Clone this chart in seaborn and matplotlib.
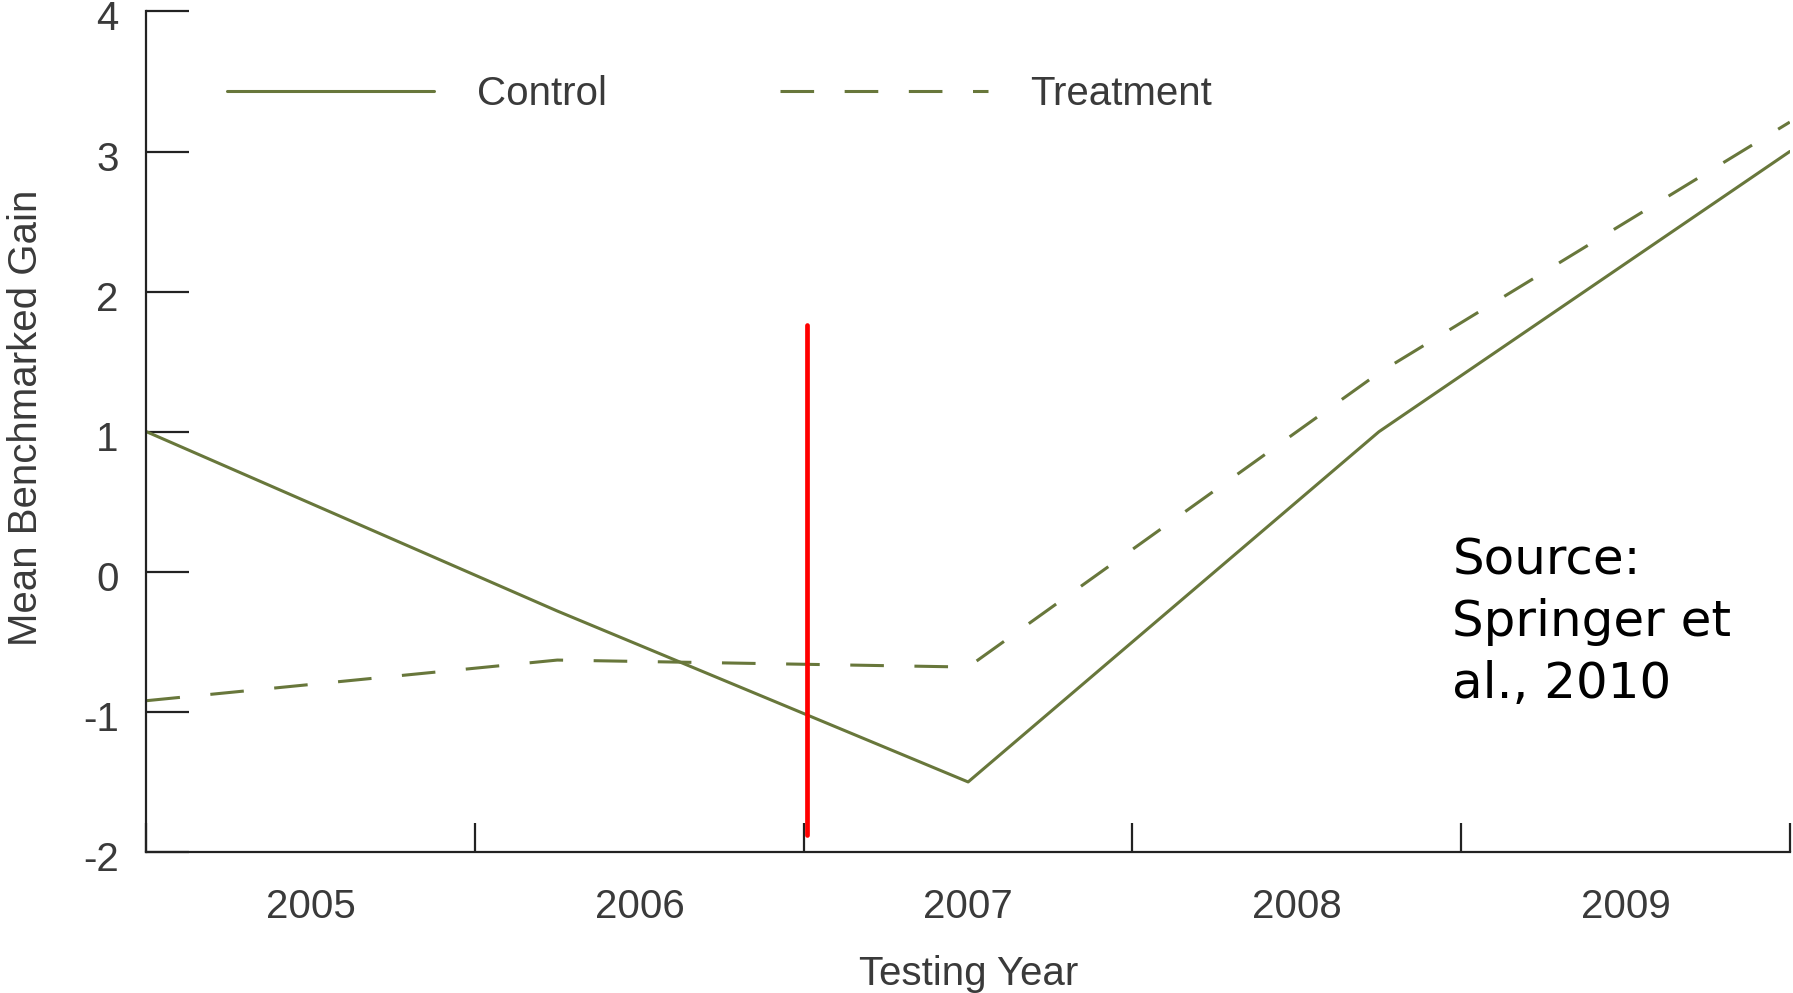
import numpy as np
import matplotlib
matplotlib.use("Agg")
import matplotlib.pyplot as plt
import matplotlib.transforms as mtransforms
import pandas as pd
import seaborn as sns

# values
years = [2005, 2006, 2007, 2008, 2009]
# the lines are drawn at 5 evenly spaced points spanning the whole axis
point_x = [2004.5, 2005.75, 2007.0, 2008.25, 2009.5]
control = [1.0, -0.28, -1.5, 1.0, 3.0]
treatment = [-0.92, -0.63, -0.68, 1.42, 3.21]

marker_year = 2006.51
marker_range = [-1.88, 1.76]

olive = "#68773b"

df = pd.DataFrame({
    "year": point_x * 2,
    "gain": control + treatment,
    "group": ["Control"] * len(control) + ["Treatment"] * len(treatment),
})

sns.set_style("white")
plt.rcParams["font.family"] = ["Liberation Sans", "DejaVu Sans"]

fig = plt.figure(figsize=(17.93, 9.93), dpi=100)
ax = fig.add_axes([0.0817, 0.142, 0.9165, 0.8465])

sns.lineplot(data=df, x="year", y="gain", hue="group", style="group",
             palette={"Control": olive, "Treatment": olive},
             dashes={"Control": "", "Treatment": (11, 10)},
             linewidth=2.2, ax=ax, sort=False)

# red vertical marker
ax.plot([marker_year, marker_year], marker_range, color="#ff0000", lw=3.4, zorder=5)

ax.set_xlim(2004.5, 2009.5)
ax.set_ylim(-2, 4)
ax.set_yticks(np.arange(-2, 5, 1))
ax.set_yticklabels([str(v) for v in range(-2, 5)])
ax.set_xticks(np.arange(2004.5, 2010, 1))
ax.set_xticklabels([])
ax.set_xticks(years, minor=True)
ax.set_xticklabels([str(y) for y in years], minor=True)

ax.tick_params(axis="y", left=True, direction="in", length=31, width=1.6, color="#222222",
               labelsize=29, labelcolor="#3a3a3a", pad=20)
ax.tick_params(axis="x", which="major", bottom=True, direction="in", length=21, width=1.6,
               color="#222222")
ax.tick_params(axis="x", which="minor", bottom=True, length=0, labelsize=29,
               labelcolor="#3a3a3a", pad=26)

# y tick labels sit a little below their ticks in the original
offset = mtransforms.ScaledTranslation(0, -4 / 100, fig.dpi_scale_trans)
for lab in ax.get_yticklabels():
    lab.set_transform(lab.get_transform() + offset)

for s in ["top", "right"]:
    ax.spines[s].set_visible(False)
for s in ["left", "bottom"]:
    ax.spines[s].set_color("#222222")
    ax.spines[s].set_linewidth(1.6)

ax.set_xlabel("Testing Year", fontsize=29, color="#3a3a3a", labelpad=21)
ax.set_ylabel("Mean Benchmarked Gain", fontsize=29, color="#3a3a3a")
ax.yaxis.set_label_coords(-0.0615, 0.516)

leg = ax.legend(loc="center left", bbox_to_anchor=(0.049, 0.902), ncol=2, frameon=False,
                fontsize=29, handlelength=5.15, handletextpad=1.06, columnspacing=4.3,
                borderpad=0, borderaxespad=0)
for t in leg.get_texts():
    t.set_color("#3a3a3a")

fig.text(0.81, 0.46, "Source:\nSpringer et\nal., 2010", fontsize=36, color="black",
         family="DejaVu Sans", va="top", ha="left", linespacing=1.36)

fig.savefig("out.png", dpi=100)
